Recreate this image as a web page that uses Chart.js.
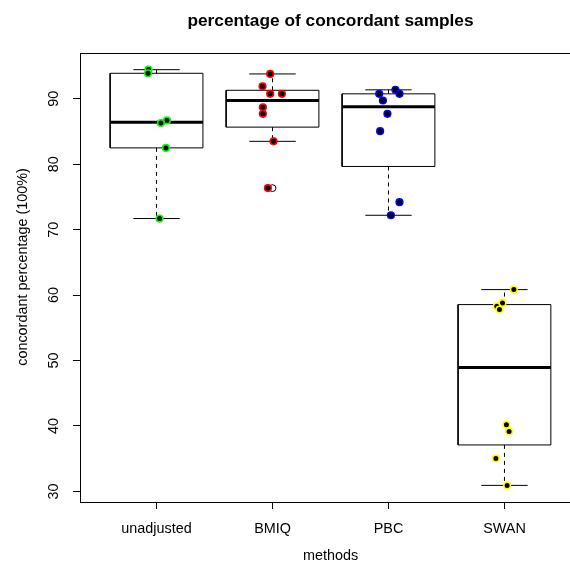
<!DOCTYPE html>
<html>
<head>
<meta charset="utf-8">
<script src="https://cdn.jsdelivr.net/npm/chart.js@4/dist/chart.umd.min.js"></script>
<style>
  html, body { margin: 0; padding: 0; overflow: hidden; background: #fff; }
  canvas { display: block; }
</style>
</head>
<body>
<canvas id="myChart" width="590" height="571"></canvas>
<script>
// categories and tick labels
const categories = ['unadjusted', 'BMIQ', 'PBC', 'SWAN'];
const yTicks = [30, 40, 50, 60, 70, 80, 90];
const pointColors = ['#00ff00', '#ff0000', '#0000ff', '#ffff00'];

// sample values per method and their horizontal jitter
const unadjusted = [94.46, 93.9, 86.7, 86.3, 82.5, 71.7];
const unadjustedJitter = [-0.069, -0.074, 0.09, 0.038, 0.081, 0.026];
const bmiq = [93.8, 91.9, 90.76, 90.76, 88.7, 87.7, 83.5, 76.35];
const bmiqJitter = [-0.02, -0.086, -0.02, 0.081, -0.083, -0.083, 0.009, -0.04];
const pbc = [91.37, 90.76, 90.76, 89.74, 87.7, 85.05, 74.2, 72.2];
const pbcJitter = [0.06, -0.08, 0.095, -0.048, -0.009, -0.072, 0.095, 0.021];
const swan = [60.84, 58.8, 58.3, 57.8, 40.17, 39.16, 35.04, 30.92];
const swanJitter = [0.081, -0.017, -0.066, -0.043, 0.017, 0.04, -0.074, 0.023];

// box statistics
const whiskerLow = [71.7, 83.5, 72.2, 30.92];
const lowerHinge = [82.5, 85.67, 79.66, 37.1];
const medians = [86.4, 89.74, 88.8, 48.95];
const upperHinge = [93.9, 91.3, 90.76, 58.55];
const whiskerHigh = [94.45, 93.8, 91.37, 60.84];
const outlierGroup = [2];
const outlierValue = [76.35];

const groups = [unadjusted, bmiq, pbc, swan];
const jitters = [unadjustedJitter, bmiqJitter, pbcJitter, swanJitter];

function seg(points, width, dash) {
	return {
		data: points,
		showLine: true,
		borderColor: '#000',
		borderWidth: width,
		borderDash: dash || [],
		borderCapStyle: 'butt',
		borderJoinStyle: 'miter',
		pointRadius: 0,
		fill: false,
		order: 1
	};
}

let datasets = [];
for (let i = 0; i < categories.length; i++) {
	let p = i + 1;
	datasets.push(seg([
		{x: p - 0.4, y: lowerHinge[i]}, {x: p + 0.4, y: lowerHinge[i]},
		{x: p + 0.4, y: upperHinge[i]}, {x: p - 0.4, y: upperHinge[i]},
		{x: p - 0.4, y: lowerHinge[i]}
	], 1));
	datasets.push(seg([{x: p - 0.4, y: medians[i]}, {x: p + 0.4, y: medians[i]}], 3));
	datasets.push(seg([{x: p, y: upperHinge[i]}, {x: p, y: whiskerHigh[i]}], 1, [4, 4]));
	datasets.push(seg([{x: p, y: lowerHinge[i]}, {x: p, y: whiskerLow[i]}], 1, [4, 4]));
	datasets.push(seg([{x: p - 0.2, y: whiskerHigh[i]}, {x: p + 0.2, y: whiskerHigh[i]}], 1));
	datasets.push(seg([{x: p - 0.2, y: whiskerLow[i]}, {x: p + 0.2, y: whiskerLow[i]}], 1));
}

// outliers from the boxplot (open circles)
datasets.push({
	data: outlierGroup.map((g, k) => ({x: g, y: outlierValue[k]})),
	pointRadius: 3.4,
	pointBorderWidth: 1,
	pointBackgroundColor: 'rgba(0,0,0,0)',
	pointBorderColor: '#000',
	order: 1
});

// jittered samples on top
for (let i = 0; i < categories.length; i++) {
	datasets.push({
		data: groups[i].map((v, k) => ({x: i + 1 + jitters[i][k], y: v})),
		pointRadius: 3.3,
		pointBorderWidth: 1.6,
		pointBackgroundColor: '#000',
		pointBorderColor: pointColors[i],
		order: 0
	});
}

const FONT = '"Liberation Sans", Arial, sans-serif';

// R-style frame and labels
const rLook = {
	id: 'rLook',
	afterDraw(chart) {
		const ctx = chart.ctx;
		const a = chart.chartArea;
		const xs = chart.scales.x;
		const ys = chart.scales.y;
		ctx.save();
		ctx.strokeStyle = '#000';
		ctx.lineWidth = 1;
		ctx.strokeRect(a.left + 0.5, a.top + 0.5, a.right - a.left, a.bottom - a.top);

		ctx.fillStyle = '#000';
		ctx.textAlign = 'center';
		ctx.textBaseline = 'alphabetic';
		ctx.font = '14.4px ' + FONT;
		xs.ticks.forEach((t, i) => {
			ctx.fillText(categories[i], xs.getPixelForValue(t.value), 533);
		});
		ctx.fillText('methods', (a.left + a.right) / 2, 560);

		ys.ticks.forEach(t => {
			ctx.save();
			ctx.translate(58, ys.getPixelForValue(t.value));
			ctx.rotate(-Math.PI / 2);
			ctx.fillText(String(t.value), 0, 0);
			ctx.restore();
		});
		ctx.save();
		ctx.translate(26.5, 267);
		ctx.rotate(-Math.PI / 2);
		ctx.fillText('concordant percentage (100%)', 0, 0);
		ctx.restore();

		ctx.font = 'bold 17.3px ' + FONT;
		ctx.fillText('percentage of concordant samples', (a.left + a.right) / 2, 25.5);
		ctx.restore();
	}
};

const ctx = document.getElementById('myChart').getContext('2d');
const myChart = new Chart(ctx, {
	type: 'scatter',
	data: { datasets: datasets },
	options: {
		responsive: false,
		animation: false,
		layout: { padding: { top: 53, right: 9, left: 0, bottom: 0 } },
		plugins: { legend: { display: false }, tooltip: { enabled: false } },
		scales: {
			x: {
				type: 'linear',
				min: 0.34,
				max: 4.66,
				afterBuildTicks: s => { s.ticks = categories.map((c, i) => ({value: i + 1})); },
				afterFit: s => { s.height = 69; },
				ticks: { display: false },
				grid: { drawOnChartArea: false, drawTicks: true, tickLength: 7, color: '#000', tickColor: '#000' },
				border: { display: false }
			},
			y: {
				type: 'linear',
				min: 28.38,
				max: 97.0,
				afterBuildTicks: s => { s.ticks = yTicks.map(v => ({value: v})); },
				afterFit: s => { s.width = 80; },
				ticks: { display: false },
				grid: { drawOnChartArea: false, drawTicks: true, tickLength: 7, color: '#000', tickColor: '#000' },
				border: { display: false }
			}
		}
	},
	plugins: [rLook]
});
</script>
</body>
</html>
